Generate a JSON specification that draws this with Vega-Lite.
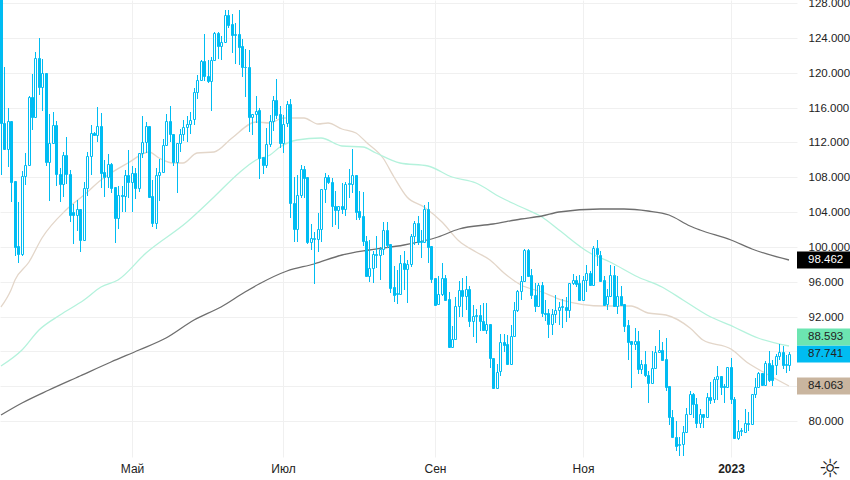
{"$schema":"https://vega.github.io/schema/vega-lite/v6.json","width":797,"height":457,"autosize":{"type":"none"},"padding":{"left":0,"top":0,"right":53,"bottom":23},"background":"#ffffff","config":{"view":{"stroke":null},"font":"Liberation Sans","axis":{"labelOverlap":false,"labelBound":false,"labelFlush":false}},
"datasets":{"candles":[
{"i":0,"o":131,"h":131,"l":108.3,"c":114.2},{"i":1,"o":114.2,"h":120.6,"l":111.1,"c":111.2},{"i":2,"o":111.2,"h":116,"l":109.2,"c":114.4},{"i":3,"o":114.4,"h":114.4,"l":105.1,"c":107.5},{"i":4,"o":107.6,"h":107.6,"l":98.9,"c":100},{"i":5,"o":100.1,"h":105.1,"l":98.2,"c":99.2},{"i":6,"o":99.2,"h":108.7,"l":99,"c":108.1},{"i":7,"o":108.1,"h":110.8,"l":107.1,"c":109.4},{"i":8,"o":109.4,"h":117.3,"l":109.3,"c":117.2},{"i":9,"o":117.2,"h":119.8,"l":113.4,"c":114.9},
{"i":10,"o":114.9,"h":122.4,"l":114.9,"c":121.7},{"i":11,"o":121.7,"h":124,"l":117.4,"c":118.3},{"i":12,"o":118.3,"h":121.6,"l":115.6,"c":120},{"i":13,"o":120,"h":120,"l":109.3,"c":109.8},{"i":14,"o":109.8,"h":115.2,"l":105.3,"c":111.9},{"i":15,"o":111.9,"h":115.5,"l":111.9,"c":114},{"i":16,"o":114,"h":114.4,"l":107,"c":108.4},{"i":17,"o":108.4,"h":109,"l":105.2,"c":107.2},{"i":18,"o":107.2,"h":110.9,"l":105.7,"c":110.6},{"i":19,"o":110.6,"h":112.6,"l":107.2,"c":108.4},
{"i":20,"o":108.4,"h":108.8,"l":102.8,"c":103.7},{"i":21,"o":104,"h":104.9,"l":100.3,"c":103.6},{"i":22,"o":103.6,"h":105.4,"l":101.8,"c":104.3},{"i":23,"o":104.3,"h":104.3,"l":99.4,"c":100.8},{"i":24,"o":100.8,"h":107.4,"l":100.8,"c":106.8},{"i":25,"o":106.8,"h":110.9,"l":105.8,"c":110.4},{"i":26,"o":110.4,"h":114,"l":108.2,"c":113.1},{"i":27,"o":113.1,"h":113.2,"l":112.8,"c":112.8},{"i":28,"o":112.8,"h":116.1,"l":112,"c":113.9},{"i":29,"o":113.9,"h":115.4,"l":106.8,"c":108.5},
{"i":30,"o":108.6,"h":110,"l":105.7,"c":108},{"i":31,"o":108,"h":110.7,"l":106.8,"c":109.5},{"i":32,"o":109.5,"h":109.6,"l":106.2,"c":106.8},{"i":33,"o":106.9,"h":106.9,"l":100.4,"c":103.3},{"i":34,"o":103.3,"h":107,"l":102,"c":106},{"i":35,"o":106,"h":107,"l":104,"c":105.8},{"i":36,"o":105.8,"h":108.8,"l":104,"c":108.3},{"i":37,"o":108.3,"h":111.1,"l":105.6,"c":107.5},{"i":38,"o":107.5,"h":109.3,"l":104,"c":108.5},{"i":39,"o":108.5,"h":109,"l":105.5,"c":106.7},
{"i":40,"o":106.7,"h":110.8,"l":106.3,"c":110.8},{"i":41,"o":110.8,"h":115,"l":110.2,"c":112},{"i":42,"o":112,"h":114.3,"l":110.8,"c":113.9},{"i":43,"o":113.9,"h":113.9,"l":105.7,"c":105.7},{"i":44,"o":105.8,"h":107.7,"l":102.3,"c":102.7},{"i":45,"o":102.7,"h":109,"l":102,"c":108.2},{"i":46,"o":108.2,"h":110.1,"l":105.3,"c":108.6},{"i":47,"o":108.6,"h":112.4,"l":108.5,"c":111.7},{"i":48,"o":111.7,"h":115.3,"l":111.6,"c":114.5},{"i":49,"o":114.5,"h":116.2,"l":112,"c":113},
{"i":50,"o":113,"h":113,"l":109.3,"c":109.7},{"i":51,"o":109.7,"h":111.9,"l":106.2,"c":111.9},{"i":52,"o":111.9,"h":113.5,"l":110.9,"c":113},{"i":53,"o":113,"h":114.6,"l":112.2,"c":113.8},{"i":54,"o":113.8,"h":115,"l":112,"c":114.1},{"i":55,"o":114.1,"h":115.5,"l":113,"c":114.6},{"i":56,"o":114.65,"h":118.2,"l":114,"c":117.8},{"i":57,"o":117.8,"h":119.7,"l":117,"c":119.2},{"i":58,"o":119.2,"h":121.5,"l":119.1,"c":121.3},{"i":59,"o":121.3,"h":124.4,"l":119.1,"c":119.6},
{"i":60,"o":119.6,"h":121.4,"l":118.8,"c":119.1},{"i":61,"o":119.1,"h":121.8,"l":115.6,"c":121.4},{"i":62,"o":121.4,"h":124.7,"l":121.3,"c":124.6},{"i":63,"o":124.6,"h":124.7,"l":121.6,"c":123.1},{"i":64,"o":123.1,"h":124.2,"l":121.4,"c":123.5},{"i":65,"o":123.5,"h":127.2,"l":123.4,"c":126.6},{"i":66,"o":126.6,"h":127.2,"l":125.1,"c":125.5},{"i":67,"o":125.6,"h":126.7,"l":122.3,"c":124.3},{"i":68,"o":124.3,"h":125.7,"l":121,"c":124.4},{"i":69,"o":124.4,"h":127.2,"l":120.9,"c":123},
{"i":70,"o":123.1,"h":123.9,"l":119.5,"c":120.6},{"i":71,"o":120.6,"h":122.7,"l":117.2,"c":120.7},{"i":72,"o":120.7,"h":122.6,"l":113.2,"c":114.9},{"i":73,"o":114.9,"h":115.3,"l":112.9,"c":115.3},{"i":74,"o":115.2,"h":117.3,"l":114.2,"c":115.6},{"i":75,"o":115.7,"h":116,"l":107.8,"c":110.2},{"i":76,"o":110.3,"h":110.3,"l":108.4,"c":109.4},{"i":77,"o":109.4,"h":113.6,"l":109,"c":111.8},{"i":78,"o":111.8,"h":115.1,"l":111.5,"c":114.4},{"i":79,"o":114.4,"h":117.3,"l":113.3,"c":116.9},
{"i":80,"o":116.9,"h":119.3,"l":114.7,"c":115.1},{"i":81,"o":115.2,"h":116.2,"l":111.3,"c":111.9},{"i":82,"o":111.9,"h":115.1,"l":110.8,"c":114.1},{"i":83,"o":114.2,"h":116.7,"l":113.8,"c":116.4},{"i":84,"o":116.4,"h":117,"l":103.3,"c":105},{"i":85,"o":105,"h":108,"l":100.5,"c":102},{"i":86,"o":102,"h":108.3,"l":100.5,"c":105.9},{"i":87,"o":105.9,"h":109.4,"l":105.6,"c":108.9},{"i":88,"o":108.9,"h":109.3,"l":105.6,"c":107.9},{"i":89,"o":108,"h":108,"l":100.3,"c":100.5},
{"i":90,"o":100.5,"h":102.6,"l":99.6,"c":101},{"i":91,"o":100.9,"h":101.7,"l":95.7,"c":101},{"i":92,"o":100.9,"h":103.9,"l":99.4,"c":102.1},{"i":93,"o":102.1,"h":106.6,"l":100.5,"c":106.6},{"i":94,"o":106.6,"h":108.5,"l":105,"c":108},{"i":95,"o":108,"h":108.2,"l":107.2,"c":107.5},{"i":96,"o":107.5,"h":107.9,"l":102.3,"c":104.7},{"i":97,"o":104.7,"h":106.4,"l":102.5,"c":104.2},{"i":98,"o":104.2,"h":104.7,"l":102.1,"c":104.7},{"i":99,"o":104.7,"h":107.3,"l":103.8,"c":104.3},
{"i":100,"o":104.3,"h":107.4,"l":103.5,"c":107.2},{"i":101,"o":107.2,"h":108.9,"l":105.6,"c":107.3},{"i":102,"o":107.2,"h":111.2,"l":106.2,"c":108.3},{"i":103,"o":108.3,"h":108.3,"l":103.1,"c":104},{"i":104,"o":104.1,"h":106.4,"l":103.1,"c":103.4},{"i":105,"o":103.5,"h":106.3,"l":100.1,"c":100.7},{"i":106,"o":100.7,"h":101.2,"l":96.6,"c":96.6},{"i":107,"o":96.6,"h":100.8,"l":96,"c":97.6},{"i":108,"o":97.6,"h":99.5,"l":95.8,"c":99.2},{"i":109,"o":99.1,"h":101.2,"l":97.6,"c":99.2},
{"i":110,"o":99.1,"h":100,"l":96.2,"c":99.7},{"i":111,"o":99.7,"h":102.8,"l":99.1,"c":101.9},{"i":112,"o":101.9,"h":102.9,"l":99.9,"c":100.2},{"i":113,"o":100.3,"h":100.3,"l":94.7,"c":95.3},{"i":114,"o":95.4,"h":97.8,"l":93.7,"c":94.5},{"i":115,"o":94.6,"h":97.3,"l":93.4,"c":94.7},{"i":116,"o":94.6,"h":99.1,"l":94.6,"c":98.2},{"i":117,"o":98.2,"h":99.5,"l":95,"c":97.4},{"i":118,"o":97.4,"h":98.5,"l":93.6,"c":98},{"i":119,"o":98,"h":101.5,"l":97.7,"c":101.3},
{"i":120,"o":101.3,"h":103,"l":100.2,"c":102.7},{"i":121,"o":102.7,"h":103.5,"l":100.2,"c":100.6},{"i":122,"o":100.6,"h":101.9,"l":98.7,"c":100.7},{"i":123,"o":100.6,"h":104.8,"l":100.5,"c":104.4},{"i":124,"o":104.4,"h":105.1,"l":98.1,"c":100},{"i":125,"o":100.1,"h":100.1,"l":95.9,"c":96.3},{"i":126,"o":96.4,"h":96.4,"l":93.2,"c":93.3},{"i":127,"o":93.4,"h":96.6,"l":93.4,"c":94.6},{"i":128,"o":94.6,"h":98.2,"l":94.4,"c":96.4},{"i":129,"o":96.4,"h":96.8,"l":93.8,"c":93.9},
{"i":130,"o":94,"h":94.8,"l":88.4,"c":88.5},{"i":131,"o":88.5,"h":90.9,"l":88.4,"c":89.4},{"i":132,"o":89.4,"h":94.2,"l":89.3,"c":93.2},{"i":133,"o":93.2,"h":96.1,"l":92,"c":95.1},{"i":134,"o":95.1,"h":96.4,"l":92,"c":94.3},{"i":135,"o":94.3,"h":96.6,"l":92.8,"c":95.2},{"i":136,"o":95.2,"h":95.5,"l":90.8,"c":91.5},{"i":137,"o":91.5,"h":93.3,"l":89.7,"c":92.1},{"i":138,"o":92.1,"h":92.9,"l":89,"c":92.2},{"i":139,"o":92.2,"h":93.3,"l":90.3,"c":91.5},
{"i":140,"o":91.5,"h":93.5,"l":90.4,"c":90.5},{"i":141,"o":90.5,"h":93.6,"l":90,"c":91.1},{"i":142,"o":91.1,"h":91.1,"l":86.1,"c":87.2},{"i":143,"o":87.2,"h":87.2,"l":83.8,"c":83.8},{"i":144,"o":83.8,"h":86.6,"l":83.8,"c":85.6},{"i":145,"o":85.7,"h":90,"l":85.2,"c":89.1},{"i":146,"o":89.1,"h":90,"l":87.9,"c":88.7},{"i":147,"o":88.8,"h":89.9,"l":86.4,"c":86.5},{"i":148,"o":86.5,"h":91,"l":86.5,"c":89.8},{"i":149,"o":89.8,"h":93.7,"l":89.8,"c":92.8},
{"i":150,"o":92.8,"h":95.1,"l":92.5,"c":94.9},{"i":151,"o":94.9,"h":96.7,"l":93.9,"c":96.1},{"i":152,"o":96.1,"h":99.8,"l":96,"c":99.6},{"i":153,"o":99.6,"h":99.7,"l":96.7,"c":96.7},{"i":154,"o":96.8,"h":97.5,"l":94,"c":94.5},{"i":155,"o":94.5,"h":95.8,"l":92.5,"c":93.2},{"i":156,"o":93.2,"h":95.8,"l":93.2,"c":95.6},{"i":157,"o":95.6,"h":96,"l":92,"c":92.4},{"i":158,"o":92.4,"h":93.9,"l":91.5,"c":92.3},{"i":159,"o":92.4,"h":92.9,"l":89.5,"c":91.1},
{"i":160,"o":91.1,"h":92.9,"l":89.9,"c":92.3},{"i":161,"o":92.3,"h":94.5,"l":91.2,"c":92.7},{"i":162,"o":92.7,"h":93.7,"l":91,"c":93.1},{"i":163,"o":93.1,"h":94,"l":90.7,"c":93.2},{"i":164,"o":93.1,"h":94.2,"l":91.4,"c":92.8},{"i":165,"o":92.8,"h":95.8,"l":91.8,"c":95.8},{"i":166,"o":95.8,"h":96.9,"l":95.6,"c":96.2},{"i":167,"o":96.2,"h":96.6,"l":95.4,"c":95.7},{"i":168,"o":95.8,"h":96.8,"l":93.9,"c":93.9},{"i":169,"o":93.9,"h":96.7,"l":93.9,"c":96.2},
{"i":170,"o":96.2,"h":97.9,"l":94.8,"c":97},{"i":171,"o":97,"h":97.2,"l":95.6,"c":95.6},{"i":172,"o":95.6,"h":100.1,"l":95.6,"c":99.9},{"i":173,"o":99.9,"h":100.8,"l":97.8,"c":99.2},{"i":174,"o":99.1,"h":99.5,"l":96.1,"c":96.1},{"i":175,"o":96.2,"h":96.7,"l":93.3,"c":93.3},{"i":176,"o":93.4,"h":95.2,"l":92.7,"c":94.3},{"i":177,"o":94.3,"h":97.9,"l":94.3,"c":96.8},{"i":178,"o":96.8,"h":97.8,"l":93.2,"c":93.2},{"i":179,"o":93.2,"h":96.6,"l":92.3,"c":94.4},
{"i":180,"o":94.4,"h":95.5,"l":93.3,"c":93.3},{"i":181,"o":93.4,"h":93.4,"l":90.2,"c":90.9},{"i":182,"o":91,"h":91.6,"l":87,"c":89.1},{"i":183,"o":89.2,"h":89.2,"l":83.8,"c":88.8},{"i":184,"o":88.8,"h":90.7,"l":88.1,"c":89.2},{"i":185,"o":89.2,"h":90.3,"l":85.4,"c":86},{"i":186,"o":86,"h":87,"l":85.4,"c":86.5},{"i":187,"o":86.5,"h":88,"l":85.1,"c":85.3},{"i":188,"o":85.3,"h":85.8,"l":82.1,"c":84.4},{"i":189,"o":84.4,"h":88,"l":84.4,"c":86.1},
{"i":190,"o":86.1,"h":88.6,"l":86,"c":87.9},{"i":191,"o":87.9,"h":90.5,"l":87.8,"c":88.2},{"i":192,"o":88.2,"h":89.1,"l":87,"c":87},{"i":193,"o":87.1,"h":89.5,"l":83.5,"c":83.9},{"i":194,"o":84,"h":84,"l":79.6,"c":80.5},{"i":195,"o":80.5,"h":81.3,"l":78.2,"c":78.2},{"i":196,"o":78.2,"h":80,"l":76.6,"c":77.1},{"i":197,"o":77.2,"h":78.2,"l":76,"c":77.4},{"i":198,"o":77.4,"h":79.4,"l":76,"c":78.7},{"i":199,"o":78.7,"h":81.5,"l":78.7,"c":80.8},
{"i":200,"o":80.8,"h":83.5,"l":80.8,"c":83.1},{"i":201,"o":83.1,"h":83.2,"l":80.3,"c":81.9},{"i":202,"o":81.9,"h":82.6,"l":79.2,"c":79.8},{"i":203,"o":79.8,"h":81.4,"l":79.2,"c":80.8},{"i":204,"o":80.8,"h":80.8,"l":79.2,"c":80.5},{"i":205,"o":80.5,"h":83.2,"l":80.4,"c":82.8},{"i":206,"o":82.8,"h":84.5,"l":82,"c":82.4},{"i":207,"o":82.5,"h":85.1,"l":82.1,"c":84.8},{"i":208,"o":84.8,"h":86.3,"l":82.4,"c":85.2},{"i":209,"o":85.2,"h":85.2,"l":83,"c":83.9},
{"i":210,"o":84,"h":84.2,"l":82.1,"c":83.9},{"i":211,"o":83.9,"h":86.2,"l":83.9,"c":86.2},{"i":212,"o":86.2,"h":87.2,"l":82,"c":82.5},{"i":213,"o":82.5,"h":82.8,"l":77.9,"c":78.1},{"i":214,"o":78.1,"h":80.1,"l":77.8,"c":78.9},{"i":215,"o":78.9,"h":79.2,"l":78.3,"c":79},{"i":216,"o":78.7,"h":81.4,"l":78.6,"c":79.8},{"i":217,"o":79.8,"h":81,"l":78.8,"c":79.7},{"i":218,"o":79.7,"h":83.1,"l":79.6,"c":83.1},{"i":219,"o":83.1,"h":84.9,"l":82.6,"c":83.9},
{"i":220,"o":83.9,"h":85.6,"l":83.9,"c":85.5},{"i":221,"o":85.5,"h":85.5,"l":84.1,"c":84.1},{"i":222,"o":84.1,"h":86.9,"l":84.1,"c":86.7},{"i":223,"o":86.7,"h":88,"l":84.5,"c":84.7},{"i":224,"o":86.4,"h":87,"l":84,"c":84.7},{"i":225,"o":86.4,"h":87.7,"l":85.3,"c":87.5},{"i":226,"o":87.5,"h":88.9,"l":87,"c":87.9},{"i":227,"o":87.9,"h":88.6,"l":86,"c":86.4},{"i":228,"o":86.4,"h":87.6,"l":85.5,"c":86.5},{"i":229,"o":86.4,"h":87.9,"l":85.8,"c":87.741}
],
"ma":[
{"s":"a","i":0,"v":93.1},{"s":"a","i":3,"v":95.05},{"s":"a","i":4,"v":96.2},{"s":"a","i":8,"v":98.27},{"s":"a","i":12,"v":101.02},{"s":"a","i":19,"v":104.24},{"s":"a","i":24,"v":105.96},{"s":"a","i":29,"v":107.68},{"s":"a","i":37,"v":109.63},{"s":"a","i":43,"v":110.9},{"s":"a","i":46,"v":110.21},{"s":"a","i":50,"v":109.63},{"s":"a","i":53,"v":109.63},{"s":"a","i":57,"v":110.78},{"s":"a","i":62,"v":110.9},{"s":"a","i":67,"v":112.5},{"s":"a","i":74,"v":114.34},{"s":"a","i":78,"v":114.22},{"s":"a","i":82,"v":114.8},{"s":"a","i":88,"v":114.8},{"s":"a","i":92,"v":114.11},{"s":"a","i":95,"v":114.22},{"s":"a","i":99,"v":113.53},{"s":"a","i":103,"v":113.08},{"s":"a","i":106,"v":112.04},{"s":"a","i":111,"v":110.2},{"s":"a","i":114,"v":108.02},{"s":"a","i":118,"v":105.73},{"s":"a","i":123,"v":104.58},{"s":"a","i":128,"v":102.86},{"s":"a","i":133,"v":100.68},{"s":"a","i":138,"v":99.41},{"s":"a","i":142,"v":98.5},{"s":"a","i":146,"v":97},{"s":"a","i":151,"v":95.63},{"s":"a","i":157,"v":94.82},{"s":"a","i":163,"v":93.9},{"s":"a","i":175,"v":93.2},{"s":"a","i":183,"v":93.2},{"s":"a","i":188,"v":92.4},{"s":"a","i":193,"v":92.17},{"s":"a","i":200,"v":90.69},{"s":"a","i":204,"v":89.31},{"s":"a","i":212,"v":88.28},{"s":"a","i":217,"v":86.67},{"s":"a","i":222,"v":85.52},{"s":"a","i":229,"v":84.063},
{"s":"b","i":0,"v":86.33},{"s":"b","i":6,"v":88.16},{"s":"b","i":11,"v":90.46},{"s":"b","i":17,"v":92.18},{"s":"b","i":24,"v":93.9},{"s":"b","i":29,"v":95.4},{"s":"b","i":34,"v":96.2},{"s":"b","i":42,"v":99.3},{"s":"b","i":54,"v":102.86},{"s":"b","i":62,"v":105.73},{"s":"b","i":69,"v":108.48},{"s":"b","i":74,"v":109.98},{"s":"b","i":78,"v":110.55},{"s":"b","i":81,"v":111.47},{"s":"b","i":86,"v":112.27},{"s":"b","i":93,"v":112.5},{"s":"b","i":99,"v":111.58},{"s":"b","i":105,"v":111.47},{"s":"b","i":109,"v":110.78},{"s":"b","i":116,"v":109.63},{"s":"b","i":124,"v":109.29},{"s":"b","i":131,"v":108.02},{"s":"b","i":138,"v":107.34},{"s":"b","i":145,"v":105.73},{"s":"b","i":151,"v":104.58},{"s":"b","i":157,"v":103.43},{"s":"b","i":162,"v":101.94},{"s":"b","i":171,"v":99.3},{"s":"b","i":177,"v":98.27},{"s":"b","i":185,"v":96.55},{"s":"b","i":192,"v":95.4},{"s":"b","i":198,"v":93.9},{"s":"b","i":205,"v":92.18},{"s":"b","i":213,"v":90.8},{"s":"b","i":220,"v":89.54},{"s":"b","i":229,"v":88.593},
{"s":"c","i":0,"v":80.7},{"s":"c","i":6,"v":82.08},{"s":"c","i":14,"v":83.57},{"s":"c","i":23,"v":85.18},{"s":"c","i":32,"v":86.79},{"s":"c","i":40,"v":88.16},{"s":"c","i":48,"v":89.54},{"s":"c","i":56,"v":91.61},{"s":"c","i":64,"v":93.1},{"s":"c","i":71,"v":94.82},{"s":"c","i":75,"v":95.74},{"s":"c","i":83,"v":97.23},{"s":"c","i":91,"v":98.04},{"s":"c","i":99,"v":99.07},{"s":"c","i":107,"v":99.64},{"s":"c","i":117,"v":100.22},{"s":"c","i":127,"v":101.14},{"s":"c","i":133,"v":102.06},{"s":"c","i":143,"v":102.63},{"s":"c","i":151,"v":103.2},{"s":"c","i":157,"v":103.55},{"s":"c","i":162,"v":104},{"s":"c","i":174,"v":104.35},{"s":"c","i":181,"v":104.35},{"s":"c","i":188,"v":104.12},{"s":"c","i":194,"v":103.66},{"s":"c","i":200,"v":102.4},{"s":"c","i":203,"v":101.94},{"s":"c","i":212,"v":100.79},{"s":"c","i":218,"v":99.76},{"s":"c","i":229,"v":98.462}
],
"last":[{"name":"c","v":98.462,"t":"98.462"},{"name":"b","v":88.593,"t":"88.593"},{"name":"p","v":87.741,"t":"87.741"},{"name":"a","v":84.063,"t":"84.063"}]},
"layer":[
{"data":{"name":"ma"},"mark":{"type":"line","strokeWidth":1.3,"clip":true,"interpolate":"monotone"},
"encoding":{"x":{"field":"i","type":"quantitative","scale":{"domain":[-0.29,231.19],"nice":false,"zero":false,"padding":0,"round":true},
"axis":{"values":[38,82,126,169,212],"title":null,"orient":"bottom","domain":false,"ticks":false,"labelPadding":6,"labelFont":"Liberation Sans","labelFontSize":12,"labelColor":"#222222","labelExpr":"datum.value==38?'Май':datum.value==82?'Июл':datum.value==126?'Сен':datum.value==169?'Ноя':'2023'","labelFontWeight":{"condition":{"test":"datum.value==212","value":"bold"},"value":"normal"},"grid":true,"gridColor":"#f0f0f0","gridWidth":1,"labelOverlap":false}},
"y":{"field":"v","type":"quantitative","scale":{"domain":[75.87,128.344],"nice":false,"zero":false,"padding":0,"round":true},
"axis":{"values":[80,84,88,92,96,100,104,108,112,116,120,124,128],"tickCount":20,"format":".3f","title":null,"orient":"right","domain":false,"ticks":false,"labelPadding":11,"labelAlign":"left","labelFont":"Liberation Sans","labelFontSize":11.5,"labelColor":"#222222","grid":true,"gridColor":"#f0f0f0","gridWidth":1,"labelOverlap":false}},
"color":{"field":"s","type":"nominal","legend":null,"scale":{"domain":["a","b","c"],"range":["#e3d6c9","#b4f2dc","#6e6e6e"]}}}},
{"data":{"name":"candles"},"mark":{"type":"rule","color":"#00bcf2","strokeWidth":1,"clip":true,"xOffset":0.5},
"encoding":{"x":{"field":"i","type":"quantitative","scale":{"domain":[-0.29,231.19],"nice":false,"zero":false,"padding":0,"round":true}},"y":{"field":"h","type":"quantitative","scale":{"domain":[75.87,128.344],"nice":false,"zero":false,"padding":0,"round":true}},"y2":{"field":"l"}}},
{"data":{"name":"candles"},"mark":{"type":"bar","orient":"vertical","size":2,"stroke":"#00bcf2","strokeWidth":1,"clip":true,"xOffset":0.5,"yOffset":0.5,"y2Offset":0.5},
"encoding":{"x":{"field":"i","type":"quantitative","scale":{"domain":[-0.29,231.19],"nice":false,"zero":false,"padding":0,"round":true}},"y":{"field":"o","type":"quantitative","scale":{"domain":[75.87,128.344],"nice":false,"zero":false,"padding":0,"round":true}},"y2":{"field":"c"},
"fill":{"condition":{"test":"datum.c<datum.o","value":"#00bcf2"},"value":"#ffffff"}}},
{"data":{"name":"last"},"transform":[{"filter":"datum.name!='b'"}],"mark":{"type":"bar","orient":"horizontal","size":17,"clip":false},
"encoding":{"x":{"datum":231.2,"type":"quantitative","scale":{"domain":[-0.29,231.19],"nice":false,"zero":false,"padding":0,"round":true}},"x2":{"datum":246.6},"y":{"field":"v","type":"quantitative","scale":{"domain":[75.87,128.344],"nice":false,"zero":false,"padding":0,"round":true}},
"fill":{"field":"name","type":"nominal","legend":null,"scale":{"domain":["c","b","p","a"],"range":["#000000","#6ce5b1","#00bcf2","#c9b59f"]}}}},
{"data":{"name":"last"},"transform":[{"filter":"datum.name=='b'"}],"mark":{"type":"bar","orient":"horizontal","size":17,"clip":false,"yOffset":-9},
"encoding":{"x":{"datum":231.2,"type":"quantitative","scale":{"domain":[-0.29,231.19],"nice":false,"zero":false,"padding":0,"round":true}},"x2":{"datum":246.6},"y":{"field":"v","type":"quantitative","scale":{"domain":[75.87,128.344],"nice":false,"zero":false,"padding":0,"round":true}},
"fill":{"field":"name","type":"nominal","legend":null,"scale":{"domain":["c","b","p","a"],"range":["#000000","#6ce5b1","#00bcf2","#c9b59f"]}}}},
{"data":{"name":"last"},"transform":[{"filter":"datum.name!='b'"}],"mark":{"type":"text","align":"left","baseline":"middle","font":"Liberation Sans","fontSize":11.5,"clip":false},
"encoding":{"x":{"datum":234.3,"type":"quantitative","scale":{"domain":[-0.29,231.19],"nice":false,"zero":false,"padding":0,"round":true}},"y":{"field":"v","type":"quantitative","scale":{"domain":[75.87,128.344],"nice":false,"zero":false,"padding":0,"round":true}},"text":{"field":"t"},
"color":{"condition":{"test":"datum.name=='c'","value":"#ffffff"},"value":"#222222"}}},
{"data":{"name":"last"},"transform":[{"filter":"datum.name=='b'"}],"mark":{"type":"text","align":"left","baseline":"middle","font":"Liberation Sans","fontSize":11.5,"clip":false,"yOffset":-9,"color":"#222222"},
"encoding":{"x":{"datum":234.3,"type":"quantitative","scale":{"domain":[-0.29,231.19],"nice":false,"zero":false,"padding":0,"round":true}},"y":{"field":"v","type":"quantitative","scale":{"domain":[75.87,128.344],"nice":false,"zero":false,"padding":0,"round":true}},"text":{"field":"t"}}},
{"data":{"values":[{"icon":"☼"}]},"mark":{"type":"text","font":"DejaVu Sans","fontSize":25,"color":"#222222","baseline":"middle","align":"center","clip":false},
"encoding":{"x":{"datum":240.8,"type":"quantitative","scale":{"domain":[-0.29,231.19],"nice":false,"zero":false,"padding":0,"round":true}},"y":{"datum":74.5,"type":"quantitative","scale":{"domain":[75.87,128.344],"nice":false,"zero":false,"padding":0,"round":true}},"text":{"field":"icon"}}}
]}
